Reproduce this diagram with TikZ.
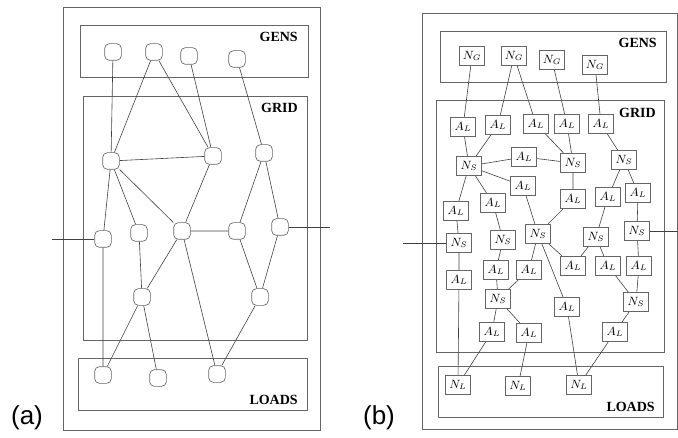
\documentclass[tikz,border=0pt]{standalone}
\usepackage{amsmath}
\usepackage{fontspec}
\setmainfont{Liberation Serif}
\newfontfamily\tagfont{Liberation Sans}
\usepackage{tikz}
\tikzstyle{bus}=[draw=black!60, line width=0.5pt, rounded corners=3.5pt, minimum size=12.5pt, inner sep=0pt]
\tikzstyle{cell}=[draw=black!60, line width=0.5pt, minimum width=19pt, minimum height=14.5pt, inner sep=0pt, font=\fontsize{9}{10}\selectfont]
\tikzstyle{area}=[draw=black!60, line width=0.5pt]
\tikzstyle{title}=[anchor=east, inner sep=0pt, font=\fontsize{10.5}{12}\selectfont\bfseries]
\tikzstyle{wire}=[black!75, line width=0.45pt]
\tikzstyle{tag}=[inner sep=0pt, font=\tagfont\fontsize{19.5}{22}\selectfont]

\begin{document}
\begin{tikzpicture}[x=0.75pt, y=-0.75pt]
    \useasboundingbox (0,0) rectangle (678,438);

    % (a)
    \draw[area] (63,7) rectangle (320,430);
    \draw[area] (80,25) rectangle (308,77);
    \draw[area] (83,96) rectangle (307,340);
    \draw[area] (78,358) rectangle (307,410);
    \node[title] (gensA) at (298,37) {GENS};
    \node[title] (gridA) at (298,108) {GRID};
    \node[title] (loadsA) at (298,400) {LOADS};
    \node[tag] (tagA) at (27,418) {(a)};

    \node[bus] (g1) at (113,52) {};
    \node[bus] (g2) at (154,52) {};
    \node[bus] (g3) at (189,56) {};
    \node[bus] (g4) at (237,59) {};
    \node[bus] (n1) at (111,161) {};
    \node[bus] (n2) at (213,156) {};
    \node[bus] (n3) at (264,153) {};
    \node[bus] (n4) at (103,239) {};
    \node[bus] (n5) at (139,233) {};
    \node[bus] (n6) at (182,231) {};
    \node[bus] (n7) at (237,231) {};
    \node[bus] (n8) at (280,227) {};
    \node[bus] (n9) at (142,297) {};
    \node[bus] (n10) at (260,297) {};
    \node[bus] (l1) at (103,375) {};
    \node[bus] (l2) at (158,378) {};
    \node[bus] (l3) at (217,374) {};
    \coordinate (inA) at (52,239);
    \coordinate (outA) at (330,227);

    \draw[wire] (g1) -- (n1) -- (g2) -- (n2) -- (g3);
    \draw[wire] (g4) -- (n3);
    \draw[wire] (n1) -- (n2) -- (n6);
    \draw[wire] (n1) -- (n4) -- (l1) -- (n9) -- (l2);
    \draw[wire] (n1) -- (n5) -- (n9) -- (n6);
    \draw[wire] (n1) -- (n6) -- (n7) -- (n3) -- (n8);
    \draw[wire] (n6) -- (l3) -- (n10) -- (n7);
    \draw[wire] (n10) -- (n8);
    \draw[wire] (inA) -- (n4);
    \draw[wire] (n8) -- (outA);

    % (b)
    \draw[area] (422,13) rectangle (677,429);
    \draw[area] (440,31) rectangle (666,82);
    \draw[area] (436,100) rectangle (664,352);
    \draw[area] (438,366) rectangle (663,417);
    \node[title] (gensB) at (657,43) {GENS};
    \node[title] (gridB) at (656,113) {GRID};
    \node[title] (loadsB) at (655,407) {LOADS};
    \node[tag] (tagB) at (379,418) {(b)};

    \node[cell] (NG1) at (472,56) {\(N_G\)};
    \node[cell] (NG2) at (514,56) {\(N_G\)};
    \node[cell] (NG3) at (552,60) {\(N_G\)};
    \node[cell] (NG4) at (595,65) {\(N_G\)};
    \node[cell] (AL1) at (463,127) {\(A_L\)};
    \node[cell] (AL2) at (498,125) {\(A_L\)};
    \node[cell] (AL3) at (536,124) {\(A_L\)};
    \node[cell] (AL4) at (567,124) {\(A_L\)};
    \node[cell] (AL5) at (601,124) {\(A_L\)};
    \node[cell] (NS1) at (469,166) {\(N_S\)};
    \node[cell] (AL6) at (524,157) {\(A_L\)};
    \node[cell] (NS2) at (573,163) {\(N_S\)};
    \node[cell] (NS3) at (624,160) {\(N_S\)};
    \node[cell] (AL7) at (523,186) {\(A_L\)};
    \node[cell] (AL8) at (573,199) {\(A_L\)};
    \node[cell] (AL9) at (608,197) {\(A_L\)};
    \node[cell] (AL10) at (638,193) {\(A_L\)};
    \node[cell] (AL11) at (456,211) {\(A_L\)};
    \node[cell] (AL12) at (493,203) {\(A_L\)};
    \node[cell] (NS4) at (538,234) {\(N_S\)};
    \node[cell] (NS5) at (596,237) {\(N_S\)};
    \node[cell] (NS6) at (637,231) {\(N_S\)};
    \node[cell] (NS7) at (459,243) {\(N_S\)};
    \node[cell] (NS8) at (503,240) {\(N_S\)};
    \node[cell] (AL13) at (496,270) {\(A_L\)};
    \node[cell] (AL14) at (529,270) {\(A_L\)};
    \node[cell] (AL15) at (573,266) {\(A_L\)};
    \node[cell] (AL16) at (608,266) {\(A_L\)};
    \node[cell] (AL17) at (639,266) {\(A_L\)};
    \node[cell] (AL18) at (459,280) {\(A_L\)};
    \node[cell] (NS9) at (498,299) {\(N_S\)};
    \node[cell] (AL19) at (567,307) {\(A_L\)};
    \node[cell] (NS10) at (636,302) {\(N_S\)};
    \node[cell] (AL20) at (492,332) {\(A_L\)};
    \node[cell] (AL21) at (529,333) {\(A_L\)};
    \node[cell] (AL22) at (615,332) {\(A_L\)};
    \node[cell] (NL1) at (458,385) {\(N_L\)};
    \node[cell] (NL2) at (518,386) {\(N_L\)};
    \node[cell] (NL3) at (579,385) {\(N_L\)};
    \coordinate (inB) at (403,243);
    \coordinate (outB) at (678,231);

    \draw[wire] (NG1) -- (AL1) -- (NS1) -- (AL2) -- (NG2) -- (AL3) -- (NS2);
    \draw[wire] (NG3) -- (AL4) -- (NS2);
    \draw[wire] (NG4) -- (AL5) -- (NS3);
    \draw[wire] (NS1) -- (AL6) -- (NS2) -- (AL8) -- (NS4);
    \draw[wire] (NS1) -- (AL7) -- (NS4);
    \draw[wire] (NS1) -- (AL12) -- (NS8) -- (AL13) -- (NS9);
    \draw[wire] (NS1) -- (AL11) -- (NS7) -- (AL18) -- (NL1);
    \draw[wire] (NS3) -- (AL9) -- (NS5) -- (AL15) -- (NS4);
    \draw[wire] (NS3) -- (AL10) -- (NS6) -- (AL17) -- (NS10);
    \draw[wire] (NS5) -- (AL16) -- (NS10) -- (AL22) -- (NL3);
    \draw[wire] (NS4) -- (AL14) -- (NS9) -- (AL20) -- (NL1);
    \draw[wire] (NS4) -- (AL19) -- (NL3);
    \draw[wire] (NS9) -- (AL21) -- (NL2);
    \draw[wire] (inB) -- (NS7);
    \draw[wire] (NS6) -- (outB);
\end{tikzpicture}
\end{document}
